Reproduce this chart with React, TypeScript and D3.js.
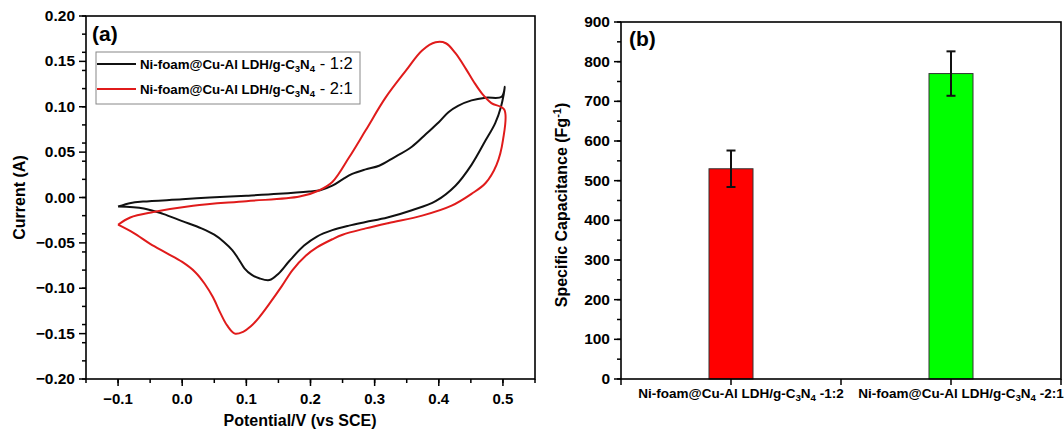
import React from "react";
import * as d3 from "d3";

const width = 1064;
const height = 433;
const font = "'Liberation Sans', Arial, sans-serif";

// (a) cyclic voltammograms, [potential V, current A], one full loop each
const cvRatio12: [number, number][] = [
  [-0.1, -0.01], [-0.08, -0.006], [-0.061, -0.0045], [0.0, -0.002], [0.043, 0.0],
  [0.1, 0.002], [0.15, 0.004], [0.198, 0.0066], [0.215, 0.008], [0.234, 0.013],
  [0.25, 0.02], [0.265, 0.026], [0.286, 0.031], [0.307, 0.035], [0.33, 0.044],
  [0.358, 0.056], [0.38, 0.07], [0.4, 0.083], [0.415, 0.094], [0.43, 0.101],
  [0.451, 0.107], [0.473, 0.11], [0.498, 0.111],
  [0.503, 0.122], [0.497, 0.1], [0.488, 0.082], [0.473, 0.063], [0.451, 0.036],
  [0.426, 0.013], [0.395, -0.004], [0.358, -0.014], [0.32, -0.022], [0.286, -0.027],
  [0.26, -0.031], [0.234, -0.036], [0.21, -0.043], [0.19, -0.053], [0.167, -0.07],
  [0.15, -0.084], [0.136, -0.091], [0.12, -0.089], [0.108, -0.085], [0.097, -0.078],
  [0.088, -0.068], [0.078, -0.058], [0.065, -0.049], [0.05, -0.041], [0.03, -0.034],
  [0.0, -0.026], [-0.03, -0.018], [-0.06, -0.012], [-0.1, -0.01],
];

const cvRatio21: [number, number][] = [
  [-0.1, -0.03], [-0.081, -0.022], [-0.045, -0.016], [0.017, -0.009], [0.1, -0.004],
  [0.183, 0.001], [0.214, 0.008], [0.234, 0.017], [0.26, 0.044], [0.286, 0.074],
  [0.317, 0.11], [0.349, 0.14], [0.374, 0.162], [0.395, 0.171], [0.411, 0.17],
  [0.426, 0.159], [0.442, 0.142], [0.455, 0.127], [0.468, 0.114], [0.482, 0.104],
  [0.502, 0.097],
  [0.5, 0.063], [0.49, 0.036], [0.473, 0.016], [0.451, 0.004], [0.42, -0.009],
  [0.374, -0.02], [0.322, -0.028], [0.286, -0.034], [0.25, -0.041], [0.234, -0.046],
  [0.21, -0.055], [0.193, -0.064], [0.172, -0.08], [0.155, -0.098], [0.136, -0.117],
  [0.12, -0.132], [0.107, -0.142], [0.095, -0.148], [0.082, -0.15], [0.07, -0.141],
  [0.06, -0.128], [0.048, -0.11], [0.035, -0.095], [0.02, -0.082], [0.0, -0.071],
  [-0.025, -0.061], [-0.05, -0.051], [-0.076, -0.039], [-0.1, -0.03],
];

// (b) specific capacitance
const samples = ["1:2", "2:1"];
const capacitance = [530, 770];
const capacitanceErr = [46, 56];
const barColors = ["#ff0000", "#00ff00"];

const cvSeries = [
  { ratio: "1:2", data: cvRatio12, color: "#111111" },
  { ratio: "2:1", data: cvRatio21, color: "#e01b1b" },
];

// sample name with C3N4 subscripts
function SampleName({ x, y, size, ratio, sep, ratioWeight, ratioSize, anchor }: any) {
  const sub = size * 0.72;
  return (
    <text x={x} y={y} fontFamily={font} fontWeight="bold" fontSize={size} textAnchor={anchor}>
      Ni-foam@Cu-Al LDH/g-C
      <tspan fontSize={sub} dy={size * 0.25}>3</tspan>
      <tspan dy={-size * 0.25}>N</tspan>
      <tspan fontSize={sub} dy={size * 0.25}>4</tspan>
      <tspan dy={-size * 0.25} fontWeight={ratioWeight} fontSize={ratioSize}>{sep}{ratio}</tspan>
    </text>
  );
}

export default function App() {
  // panel (a)
  const xA = d3.scaleLinear().domain([-0.15, 0.55]).range([86, 535]);
  const yA = d3.scaleLinear().domain([-0.2, 0.2]).range([379, 16]);
  const line = d3
    .line<[number, number]>()
    .x((d) => xA(d[0]))
    .y((d) => yA(d[1]))
    .curve(d3.curveCatmullRom.alpha(0.5));
  const fmtA = d3.format(".2f");
  const fmtX = d3.format(".1f");

  // panel (b)
  const xB = d3.scaleBand().domain(samples).range([621, 1061]).paddingInner(0.8).paddingOuter(0.4);
  const yB = d3.scaleLinear().domain([0, 900]).range([379, 22]);
  const catCenters = samples.map((s) => (xB(s) as number) + xB.bandwidth() / 2);
  const sepTicks = [621, (catCenters[0] + catCenters[1]) / 2, 1061];

  return (
    <svg width={width} height={height} style={{ position: "absolute", left: 0, top: 0, background: "#fff" }}>
      {/* ---------- (a) ---------- */}
      <g>
        {cvSeries.map((s) => (
          <path key={s.ratio} d={line(s.data) || ""} fill="none" stroke={s.color} strokeWidth={2} />
        ))}
        <rect x={86} y={16} width={535 - 86} height={379 - 16} fill="none" stroke="#000" strokeWidth={1.6} />
        {xA.ticks(14).map((t) => (
          <line key={"xm" + t} x1={xA(t)} x2={xA(t)} y1={379} y2={383} stroke="#000" strokeWidth={1.5} />
        ))}
        {xA.ticks(7).map((t) => (
          <g key={"x" + t}>
            <line x1={xA(t)} x2={xA(t)} y1={379} y2={386} stroke="#000" strokeWidth={1.5} />
            <text x={xA(t)} y={404} textAnchor="middle" fontFamily={font} fontWeight="bold" fontSize={15}>
              {fmtX(t)}
            </text>
          </g>
        ))}
        {yA.ticks(16).map((t) => (
          <line key={"ym" + t} x1={82} x2={86} y1={yA(t)} y2={yA(t)} stroke="#000" strokeWidth={1.5} />
        ))}
        {yA.ticks(8).map((t) => (
          <g key={"y" + t}>
            <line x1={79} x2={86} y1={yA(t)} y2={yA(t)} stroke="#000" strokeWidth={1.5} />
            <text x={75} y={yA(t) + 5} textAnchor="end" fontFamily={font} fontWeight="bold" fontSize={15.5}>
              {fmtA(t)}
            </text>
          </g>
        ))}
        <text x={300} y={426} textAnchor="middle" fontFamily={font} fontWeight="bold" fontSize={16}>
          Potential/V (vs SCE)
        </text>
        <text
          transform={`translate(25,${yA(0)}) rotate(-90)`}
          textAnchor="middle"
          fontFamily={font}
          fontWeight="bold"
          fontSize={16}
        >
          Current (A)
        </text>
        <text x={92} y={41} fontFamily={font} fontWeight="bold" fontSize={21}>
          (a)
        </text>
        {/* legend */}
        <rect x={96} y={52} width={264} height={52} fill="#fff" stroke="#888" strokeWidth={1} />
        {cvSeries.map((s, i) => (
          <g key={"lg" + s.ratio}>
            <line x1={97} x2={136} y1={64 + i * 25} y2={64 + i * 25} stroke={s.color} strokeWidth={2} />
            <SampleName
              x={140}
              y={69 + i * 25}
              size={13.3}
              ratio={s.ratio}
              sep={i === 0 ? " - " : " -  "}
              ratioWeight="normal"
              ratioSize={16.5}
              anchor="start"
            />
          </g>
        ))}
      </g>

      {/* ---------- (b) ---------- */}
      <g>
        {samples.map((s, i) => {
          const cx = catCenters[i];
          const hi = yB(capacitance[i] + capacitanceErr[i]);
          const lo = yB(capacitance[i] - capacitanceErr[i]);
          return (
            <g key={"bar" + s}>
              <rect
                x={xB(s)}
                y={yB(capacitance[i])}
                width={xB.bandwidth()}
                height={yB(0) - yB(capacitance[i])}
                fill={barColors[i]}
                stroke="#333"
                strokeWidth={1}
              />
              <line x1={cx} x2={cx} y1={hi} y2={lo} stroke="#111" strokeWidth={2} />
              <line x1={cx - 4.5} x2={cx + 4.5} y1={hi} y2={hi} stroke="#111" strokeWidth={2} />
              <line x1={cx - 4.5} x2={cx + 4.5} y1={lo} y2={lo} stroke="#111" strokeWidth={2} />
            </g>
          );
        })}
        <rect x={621} y={22} width={1061 - 621} height={379 - 22} fill="none" stroke="#000" strokeWidth={1.6} />
        {[...sepTicks, ...catCenters].map((t, i) => (
          <line key={"bx" + i} x1={t} x2={t} y1={379} y2={385} stroke="#000" strokeWidth={1.5} />
        ))}
        {yB.ticks(18).map((t) => (
          <line key={"bym" + t} x1={617} x2={621} y1={yB(t)} y2={yB(t)} stroke="#000" strokeWidth={1.5} />
        ))}
        {yB.ticks(9).map((t) => (
          <g key={"by" + t}>
            <line x1={614} x2={621} y1={yB(t)} y2={yB(t)} stroke="#000" strokeWidth={1.5} />
            <text x={610} y={yB(t) + 5} textAnchor="end" fontFamily={font} fontWeight="bold" fontSize={15.5}>
              {t}
            </text>
          </g>
        ))}
        {samples.map((s, i) => (
          <SampleName
            key={"lbl" + s}
            x={catCenters[i] + 10}
            y={398}
            size={13.5}
            ratio={s}
            sep=" -"
            ratioWeight="bold"
            ratioSize={13.5}
            anchor="middle"
          />
        ))}
        <text
          transform={`translate(567,205) rotate(-90)`}
          textAnchor="middle"
          fontFamily={font}
          fontWeight="bold"
          fontSize={16}
        >
          Specific Capacitance (Fg
          <tspan fontSize={11} dy={-6}>-1</tspan>
          <tspan dy={6}>)</tspan>
        </text>
        <text x={629} y={46} fontFamily={font} fontWeight="bold" fontSize={21}>
          (b)
        </text>
      </g>
    </svg>
  );
}
